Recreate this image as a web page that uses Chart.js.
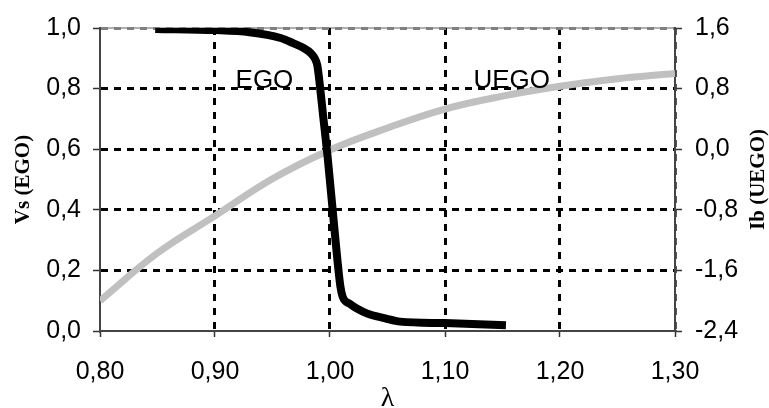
<!DOCTYPE html>
<html>
<head>
<meta charset="utf-8">
<script src="https://cdn.jsdelivr.net/npm/chart.js@4/dist/chart.umd.min.js"></script>
<style>
  html, body { margin: 0; padding: 0; background: #ffffff; }
  #wrap { width: 769px; height: 408px; position: relative; }
</style>
</head>
<body>
<div id="wrap"><canvas id="c" width="769" height="408"></canvas></div>
<script>
// ---- data ----
const egoLambda = [0.848, 0.900, 0.930, 0.957, 0.968, 0.977, 0.983, 0.987, 0.989, 0.991, 0.994, 0.998, 1.002, 1.006, 1.009, 1.011, 1.017, 1.032, 1.048, 1.061, 1.100, 1.153];
const egoVs     = [0.997, 0.993, 0.986, 0.967, 0.950, 0.934, 0.918, 0.898, 0.876, 0.817, 0.711, 0.572, 0.412, 0.251, 0.148, 0.113, 0.090, 0.058, 0.042, 0.031, 0.026, 0.019];

const uegoLambda = [0.80, 0.85, 0.90, 0.95, 1.00, 1.05, 1.10, 1.15, 1.20, 1.25, 1.30];
const uegoIb     = [-2.00, -1.37, -0.88, -0.39, -0.01, 0.28, 0.53, 0.70, 0.83, 0.93, 1.00];

const xTickValues = [0.80, 0.90, 1.00, 1.10, 1.20, 1.30];
const xTickLabels = ['0,80', '0,90', '1,00', '1,10', '1,20', '1,30'];
const yTickValues = [0.0, 0.2, 0.4, 0.6, 0.8, 1.0];
const yTickLabels = ['0,0', '0,2', '0,4', '0,6', '0,8', '1,0'];
const y1TickValues = [-2.4, -1.6, -0.8, 0.0, 0.8, 1.6];
const y1TickLabels = ['-2,4', '-1,6', '-0,8', '0,0', '0,8', '1,6'];

const curveNames  = ['EGO', 'UEGO'];
const curveNameX  = [0.943, 1.158];
const curveNameY  = [0.826, 0.826];

const rightTitle = 'Ib (UEGO)';

// ---- chart ----
const sans = "'Liberation Sans', Arial, sans-serif";
const serif = "'Liberation Serif', 'Times New Roman', serif";
const tickFont = { family: sans, size: 25 };

const ego = egoLambda.map((x, i) => ({ x: x, y: egoVs[i] }));
const uego = uegoLambda.map((x, i) => ({ x: x, y: uegoIb[i] }));

const bgAndTop = {
  id: 'bgAndTop',
  beforeDraw(chart) {
    const { ctx, chartArea } = chart;
    ctx.save();
    ctx.fillStyle = '#ffffff';
    ctx.fillRect(0, 0, chart.width, chart.height);
    ctx.strokeStyle = '#b0b0b0';
    ctx.lineWidth = 2;
    ctx.beginPath();
    ctx.moveTo(chartArea.left, chartArea.top);
    ctx.lineTo(chartArea.right, chartArea.top);
    ctx.stroke();
    ctx.restore();
  }
};

const curveLabels = {
  id: 'curveLabels',
  afterDatasetsDraw(chart) {
    const { ctx, chartArea } = chart;
    const xs = chart.scales.x, ys = chart.scales.y, y1 = chart.scales.y1;
    ctx.save();
    ctx.fillStyle = '#000000';
    ctx.font = '26px ' + sans;
    ctx.textAlign = 'center';
    ctx.textBaseline = 'middle';
    curveNames.forEach((t, i) => {
      ctx.fillText(t, xs.getPixelForValue(curveNameX[i]), ys.getPixelForValue(curveNameY[i]));
    });
    // right axis title, reading bottom-to-top like the left one
    ctx.font = 'bold 21px ' + serif;
    ctx.translate(y1.right - 10, (chartArea.top + chartArea.bottom) / 2);
    ctx.rotate(-Math.PI / 2);
    ctx.fillText(rightTitle, 0, 0);
    ctx.restore();
  }
};

new Chart(document.getElementById('c'), {
  type: 'line',
  data: {
    datasets: [
      {
        label: 'UEGO',
        data: uego,
        yAxisID: 'y1',
        borderColor: '#c0c0c0',
        borderWidth: 7,
        pointRadius: 0,
        fill: false,
        tension: 0.4,
        borderCapStyle: 'butt',
        order: 2
      },
      {
        label: 'EGO',
        data: ego,
        yAxisID: 'y',
        borderColor: '#000000',
        borderWidth: 8,
        pointRadius: 0,
        fill: false,
        cubicInterpolationMode: 'monotone',
        borderJoinStyle: 'round',
        borderCapStyle: 'butt',
        order: 1
      }
    ]
  },
  options: {
    responsive: false,
    animation: false,
    devicePixelRatio: 1,
    layout: { padding: { top: 20, left: 0, right: 0, bottom: 0 } },
    plugins: { legend: { display: false }, tooltip: { enabled: false } },
    scales: {
      x: {
        type: 'linear',
        min: 0.8, max: 1.3,
        afterBuildTicks: s => { s.ticks = xTickValues.map(v => ({ value: v })); },
        afterFit: s => { s.height = 77; },
        ticks: {
          font: tickFont, color: '#000', padding: 20, maxRotation: 0, autoSkip: false,
          callback: (v, i) => xTickLabels[i]
        },
        grid: {
          color: ctx => ctx.index === 0 ? 'rgba(0,0,0,0)' : (ctx.index === xTickValues.length - 1 ? '#555' : '#000'),
          lineWidth: 3,
          borderDash: [7, 7],
          tickColor: '#333', tickLength: 6, tickWidth: 1.5, tickBorderDash: []
        },
        border: { display: true, color: '#444', width: 2, dash: [7, 7] },
        title: {
          display: true, text: 'λ', color: '#000',
          font: { family: serif, size: 28, lineHeight: 0.7 },
          padding: { top: 0, bottom: 0 }
        }
      },
      y: {
        type: 'linear', position: 'left',
        min: 0, max: 1,
        afterBuildTicks: s => { s.ticks = yTickValues.map(v => ({ value: v })); },
        afterFit: s => { s.width = 100; },
        ticks: {
          font: tickFont, color: '#000', padding: 12,
          callback: (v, i) => yTickLabels[i]
        },
        grid: {
          color: ctx => ctx.index === 0 ? 'rgba(0,0,0,0)' : (ctx.index === yTickValues.length - 1 ? '#808080' : '#000'),
          lineWidth: 3,
          borderDash: [7, 6],
          tickColor: '#333', tickLength: 7, tickWidth: 1.5, tickBorderDash: []
        },
        border: { display: true, color: '#444', width: 2, dash: [7, 6] },
        title: {
          display: true, text: 'Vs (EGO)', color: '#000',
          font: { family: serif, size: 21, weight: 'bold' },
          padding: { top: 11, bottom: 0 }
        }
      },
      y1: {
        type: 'linear', position: 'right',
        min: -2.4, max: 1.6,
        afterBuildTicks: s => { s.ticks = y1TickValues.map(v => ({ value: v })); },
        afterFit: s => { s.width = 94; },
        ticks: {
          font: tickFont, color: '#000', padding: 13,
          callback: (v, i) => y1TickLabels[i]
        },
        grid: {
          drawOnChartArea: false,
          color: '#333',
          tickColor: '#333', tickLength: 7, tickWidth: 1.5, tickBorderDash: []
        },
        border: { display: true, color: '#444', width: 2 },
        title: { display: false }
      }
    }
  },
  plugins: [bgAndTop, curveLabels]
});
</script>
</body>
</html>
